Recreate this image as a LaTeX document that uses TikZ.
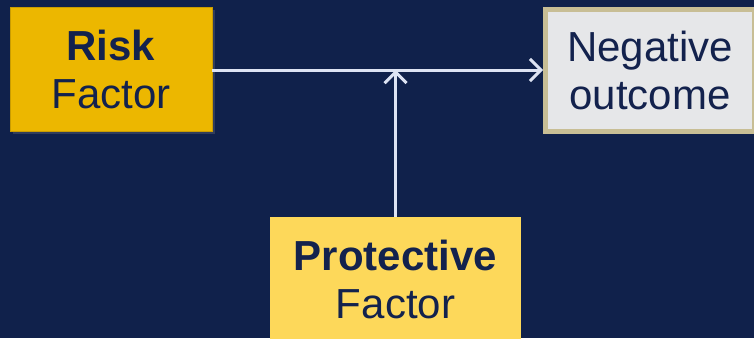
\documentclass[tikz,border=0pt]{standalone}
\usepackage{fontspec}
\setmainfont{Liberation Sans}
\usepackage{xcolor}
\definecolor{navyBg}{HTML}{10214B}
\definecolor{navyText}{HTML}{13224D}
\definecolor{riskGold}{HTML}{ECB700}
\definecolor{protYellow}{HTML}{FDD85A}
\definecolor{outGrey}{HTML}{E6E7E9}
\definecolor{outBorder}{HTML}{C8BE95}
\definecolor{arrowLine}{HTML}{DDE3F3}
\usetikzlibrary{arrows.meta,shadows}

\begin{document}
\begin{tikzpicture}[
    x=1pt, y=-1pt,
    box/.style={rectangle, align=center, text=navyText, inner sep=0pt,
        font=\fontsize{42pt}{48pt}\selectfont},
    arr/.style={-{Straight Barb[length=11pt,width=22pt]}, line width=3pt, arrowLine},
]

% Background
\fill[navyBg] (0,0) rectangle (754,338);
\useasboundingbox (0,0) rectangle (754,338);
\clip (0,0) rectangle (754,338);

% Boxes
\node[box, fill=riskGold, draw=riskGold!85!black, line width=0.6pt,
      minimum width=202pt, minimum height=124pt,
      drop shadow={opacity=0.3, shadow xshift=3pt, shadow yshift=-3pt}]
      (risk) at (111,69) {\textbf{Risk}\\Factor};
\node[box, fill=outGrey, draw=outBorder, line width=5pt,
      minimum width=209pt, minimum height=122pt]
      (outcome) at (650,70.5) {Negative\\outcome};
\node[box, fill=protYellow, minimum width=251pt, minimum height=124pt]
      (prot) at (395.5,279) {\textbf{Protective}\\Factor};

% Connectors
\coordinate (join) at (prot.north |- 0,70);
\draw[arr] (risk.east |- join) -- (outcome.west |- join);
\draw[arr] (prot.north) -- (join);

\end{tikzpicture}
\end{document}
